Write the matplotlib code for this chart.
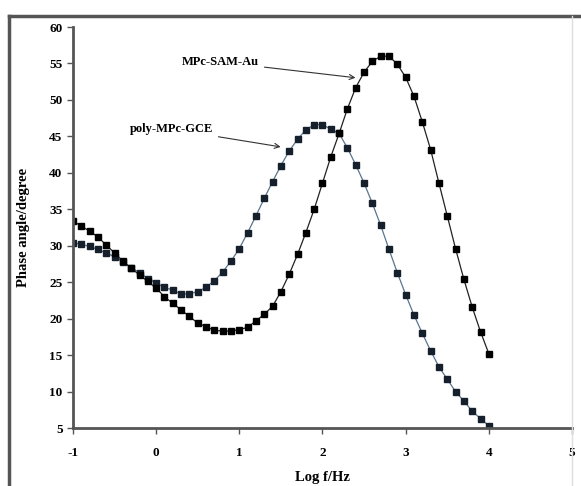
import matplotlib

matplotlib.use("Agg")

import matplotlib.pyplot as plt
from matplotlib.lines import Line2D

log_f = [-1.0, -0.9, -0.8, -0.7, -0.6, -0.5, -0.4, -0.3, -0.2, -0.1,
         0.0, 0.1, 0.2, 0.3, 0.4, 0.5, 0.6, 0.7, 0.8, 0.9,
         1.0, 1.1, 1.2, 1.3, 1.4, 1.5, 1.6, 1.7, 1.8, 1.9,
         2.0, 2.1, 2.2, 2.3, 2.4, 2.5, 2.6, 2.7, 2.8, 2.9,
         3.0, 3.1, 3.2, 3.3, 3.4, 3.5, 3.6, 3.7, 3.8, 3.9, 4.0]

# phase angle (degree)
sam_au = [33.4, 32.7, 32.0, 31.2, 30.1, 29.0, 27.9, 26.9, 26.0, 25.1,
          24.2, 23.0, 22.1, 21.2, 20.3, 19.4, 18.9, 18.4, 18.3, 18.3,
          18.5, 18.8, 19.7, 20.6, 21.7, 23.7, 26.1, 28.8, 31.8, 35.0,
          38.6, 42.2, 45.4, 48.8, 51.7, 53.8, 55.3, 56.0, 56.0, 54.9,
          53.1, 50.5, 47.0, 43.2, 38.6, 34.1, 29.6, 25.4, 21.6, 18.2, 15.2]

poly_gce = [30.4, 30.2, 29.9, 29.5, 29.0, 28.5, 27.8, 27.0, 26.3, 25.5,
            24.9, 24.3, 23.9, 23.4, 23.4, 23.7, 24.3, 25.2, 26.4, 27.9,
            29.6, 31.8, 34.1, 36.5, 38.8, 41.0, 43.0, 44.6, 45.9, 46.6,
            46.6, 46.0, 45.4, 43.4, 41.1, 38.6, 35.8, 32.8, 29.5, 26.3,
            23.3, 20.5, 18.0, 15.6, 13.4, 11.7, 10.0, 8.7, 7.3, 6.3, 5.3]

x_ticks = [-1, 0, 1, 2, 3, 4, 5]
y_ticks = [5, 10, 15, 20, 25, 30, 35, 40, 45, 50, 55, 60]

plt.rcParams["font.family"] = ["Liberation Serif", "DejaVu Serif"]
plt.rcParams["axes.unicode_minus"] = False

fig = plt.figure(figsize=(5.81, 4.86), dpi=100)
ax = fig.add_axes([0.1256, 0.1193, 0.8589, 0.8251])

ax.plot(log_f, poly_gce, color="#5a7590", linewidth=0.9, marker="s",
        markersize=4.2, markerfacecolor="#15202c", markeredgecolor="#15202c")
ax.plot(log_f, sam_au, color="#222222", linewidth=0.9, marker="s",
        markersize=5, markerfacecolor="black", markeredgecolor="black")

ax.set_xlim(-1, 5)
ax.set_ylim(5, 60)
ax.set_xticks(x_ticks)
ax.set_yticks(y_ticks)
for side in ("top", "right"):
    ax.spines[side].set_visible(False)
for side in ("left", "bottom"):
    ax.spines[side].set_linewidth(2)
    ax.spines[side].set_color("#555555")
ax.tick_params(direction="out", length=4, width=1, labelsize=9.5, color="#555555")
ax.tick_params(axis="x", pad=10)
for lbl in ax.get_xticklabels() + ax.get_yticklabels():
    lbl.set_fontweight("bold")

ax.set_xlabel("Log f/Hz", fontsize=10.5, fontweight="bold", labelpad=8)
ax.set_ylabel("Phase angle/degree", fontsize=10.5, fontweight="bold", labelpad=14)

arrow = dict(arrowstyle="->", color="#333333", linewidth=0.8)
ax.annotate("MPc-SAM-Au", xy=(2.43, 53.0), xytext=(0.31, 55.2),
            fontsize=9, fontweight="bold", va="center", arrowprops=arrow)
ax.annotate("poly-MPc-GCE", xy=(1.53, 43.5), xytext=(-0.32, 46.0),
            fontsize=9, fontweight="bold", va="center", arrowprops=arrow)

# outer chart-area frame
frame_color = "#555555"
fig.add_artist(Line2D([0.0155, 0.0155], [0.967, 0.0], transform=fig.transFigure,
                      color=frame_color, linewidth=2.5))
fig.add_artist(Line2D([0.0155, 1.0], [0.967, 0.967], transform=fig.transFigure,
                      color=frame_color, linewidth=2.5))
fig.add_artist(Line2D([0.9845, 0.9845], [0.967, 0.0], transform=fig.transFigure,
                      color="#dddddd", linewidth=1))

fig.savefig("out.png", dpi=100)
plt.close(fig)
